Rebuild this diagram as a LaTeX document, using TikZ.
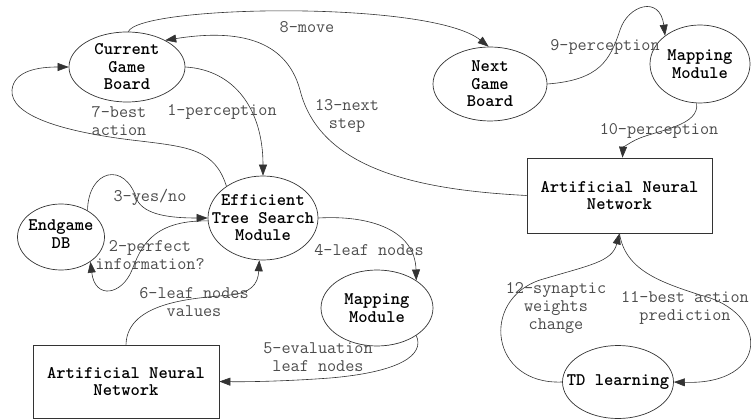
\documentclass[tikz,border=0pt]{standalone}
\usepackage{fontspec}
\usetikzlibrary{shapes.geometric,arrows.meta}

\definecolor{linecol}{gray}{0.2}
\definecolor{labelcol}{gray}{0.3}

\begin{document}
\begin{tikzpicture}[x=1pt,y=-1pt,
  state/.style={draw=linecol, line width=0.7pt, ellipse, inner sep=0pt},
  box/.style={draw=linecol, line width=0.7pt, rectangle, inner sep=0pt,
    align=center, font=\ttfamily\bfseries\fontsize{17.7pt}{17.5pt}\selectfont},
  nodetext/.style={font=\ttfamily\bfseries\fontsize{17.7pt}{17.5pt}\selectfont,
    align=center, inner sep=0pt},
  edgelabel/.style={font=\ttfamily\fontsize{17.7pt}{18pt}\selectfont,
    text=labelcol, align=center, inner sep=0pt},
  conn/.style={draw=linecol, line width=0.6pt,
    -{Triangle[length=11pt,width=8pt]}},
]
\useasboundingbox (0,0) rectangle (751,419);

% states and modules
\node[state, minimum width=116pt, minimum height=70pt,
  label={[nodetext]center:{Current\\Game\\Board}}] (cgb) at (127,67) {};
\node[state, minimum width=110pt, minimum height=84pt,
  label={[nodetext]center:{Efficient\\Tree Search\\Module}}] (ets) at (263,218) {};
\node[state, minimum width=87pt, minimum height=66pt,
  label={[nodetext,yshift=3pt]center:{Endgame\\DB}}] (edb) at (61,237) {};
\node[state, minimum width=112pt, minimum height=76pt,
  label={[nodetext]center:{Mapping\\Module}}] (mmA) at (377,308) {};
\node[box, minimum width=186pt, minimum height=73pt] (annA) at (126,381.5)
  {Artificial Neural\\Network};
\node[state, minimum width=114pt, minimum height=74pt,
  label={[nodetext]center:{Next\\Game\\Board}}] (ngb) at (490,84) {};
\node[state, minimum width=100pt, minimum height=78pt,
  label={[nodetext]center:{Mapping\\Module}}] (mmB) at (700,64) {};
\node[box, minimum width=185pt, minimum height=75pt] (annB) at (619.5,195.5)
  {Artificial Neural\\Network};
\node[state, minimum width=111pt, minimum height=73pt,
  label={[nodetext]center:{TD learning}}] (td) at (618,382) {};

% connectors
\draw[conn] (cgb.east) .. controls (235,70) and (263,110) .. (ets.north);
\draw[conn] (edb.45) .. controls (88,170) and (125,160) .. (137,200)
  .. controls (145,215) and (170,218) .. (ets.west);
\draw[conn] (ets.183) .. controls (150,220) and (140,250) .. (132,270)
  .. controls (122,295) and (95,300) .. (edb.-40);
\draw[conn] (ets.east) .. controls (370,215) and (415,230) .. (mmA.35);
\draw[conn] (mmA.-35) .. controls (425,355) and (400,372) .. (330,378)
  .. controls (290,381) and (250,382) .. (annA.east);
\draw[conn] (annA.north) .. controls (127,300) and (200,298) .. (230,295)
  .. controls (250,293) and (258,285) .. (ets.265);
\draw[conn] (ets.139) .. controls (215,150) and (190,147) .. (140,141)
  .. controls (60,132) and (10,115) .. (12,90)
  .. controls (14,70) and (40,67) .. (cgb.west);
\draw[conn] (cgb.88) .. controls (140,5) and (430,0) .. (ngb.92);
\draw[conn] (ngb.east) .. controls (600,80) and (610,60) .. (620,30)
  .. controls (628,5) and (660,-5) .. (mmB.141);
\draw[conn] (mmB.265) .. controls (700,125) and (660,130) .. (640,138)
  .. controls (630,142) and (623,148) .. ([xshift=3pt]annB.north);
\draw[conn] (annB.south) .. controls (625,270) and (660,282) .. (700,295)
  .. controls (770,312) and (770,385) .. (td.east);
\draw[conn] (td.west) .. controls (490,385) and (480,300) .. (540,280)
  .. controls (590,265) and (612,262) .. (annB.south);
\draw[conn] (annB.west) .. controls (420,190) and (320,170) .. (300,90)
  .. controls (285,35) and (230,30) .. (cgb.35);

% connector labels
\node[edgelabel] (l1) at (222,112) {1-perception};
\node[edgelabel] (l2) at (150,255) {2-perfect\\information?};
\node[edgelabel] (l3) at (150,197) {3-yes/no};
\node[edgelabel] (l4) at (369,250) {4-leaf nodes};
\node[edgelabel] (l5) at (318,357) {5-evaluation\\leaf nodes};
\node[edgelabel] (l6) at (194,302) {6-leaf nodes\\values};
\node[edgelabel] (l7) at (119,121.5) {7-best\\action};
\node[edgelabel] (l8) at (307,27) {8-move};
\node[edgelabel] (l9) at (605,47) {9-perception};
\node[edgelabel] (l10) at (659,131) {10-perception};
\node[edgelabel] (l11) at (685,307.5) {11-best action\\prediction};
\node[edgelabel] (l12) at (556,308) {12-synaptic\\weights\\change};
\node[edgelabel] (l13) at (347,116) {13-next\\step};
\end{tikzpicture}
\end{document}
